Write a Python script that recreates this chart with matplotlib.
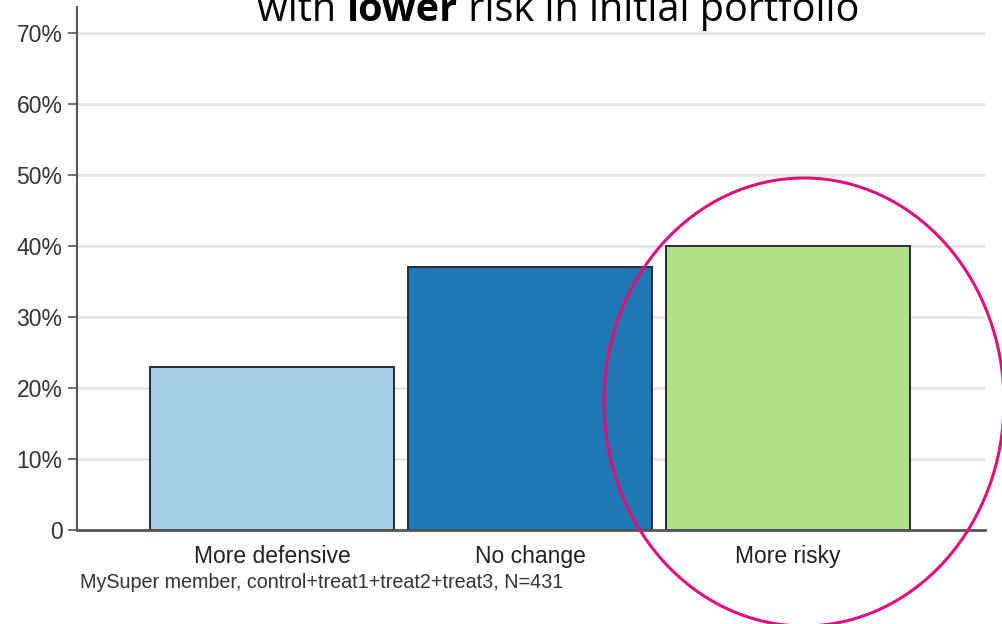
import matplotlib
matplotlib.use("Agg")
import matplotlib.pyplot as plt
from matplotlib.patches import Ellipse

categories = ["More defensive", "No change", "More risky"]
shares = [23, 37, 40]          # percent of members
bar_colors = ["#a6cee3", "#1f78b4", "#b2df8a"]
y_ticks = [0, 10, 20, 30, 40, 50, 60, 70]
y_tick_labels = ["0", "10%", "20%", "30%", "40%", "50%", "60%", "70%"]
footnote = "MySuper member, control+treat1+treat2+treat3, N=431"

W, H = 1002, 624
fig = plt.figure(figsize=(W / 100, H / 100), dpi=100)
fig.patch.set_facecolor("white")

ax = fig.add_axes([77 / W, 94 / H, (985 - 77) / W, (530 - 7) / H])
ax.set_facecolor("white")

x = list(range(len(categories)))
ax.bar(x, shares, width=0.945, color=bar_colors, edgecolor="#2b2b2b",
       linewidth=1.4, zorder=3)

ax.set_xlim(-0.756, 2.764)
ax.set_ylim(0, 73.7)

ax.set_yticks(y_ticks)
ax.set_yticklabels(y_tick_labels, fontfamily="Liberation Sans",
                   fontsize=16.5, color="#333333")
for t in y_ticks[1:]:
    ax.axhline(t, color="#e3e3e3", linewidth=1.8, zorder=1)

ax.set_xticks(x)
ax.set_xticklabels(categories, fontfamily="Liberation Sans",
                   fontsize=16.5, color="#222222")
ax.tick_params(axis="x", length=0, pad=11)
ax.tick_params(axis="y", length=6.5, width=1.2, color="#555555", pad=4)

for side in ("top", "right"):
    ax.spines[side].set_visible(False)
ax.spines["left"].set_color("#555555")
ax.spines["left"].set_linewidth(1.5)
ax.spines["bottom"].set_color("#555555")
ax.spines["bottom"].set_linewidth(2.0)
ax.spines["bottom"].set_zorder(4)

fig.text(80 / W, 1 - 583 / H, footnote, fontfamily="Liberation Sans",
         fontsize=14.2, color="#333333", ha="left", va="center")

# headline, partly running off the top edge
title_parts = [("with ", "normal"), ("lower", "bold"),
               (" risk in initial portfolio", "normal")]
renderer = fig.canvas.get_renderer()
texts = []
for s, w in title_parts:
    t = fig.text(0, 1 - 21 / H, s, fontfamily="Open Sans", fontsize=28.5,
                 fontweight=w, color="black", ha="left", va="baseline")
    texts.append(t)
widths = [t.get_window_extent(renderer).width for t in texts]
x0 = 558 - sum(widths) / 2
for t, w_ in zip(texts, widths):
    t.set_x(x0 / W)
    x0 += w_

# highlight ring around the riskier choice
ring = Ellipse((804 / W, 1 - 402 / H), 400 / W, 448 / H,
               transform=fig.transFigure, fill=False,
               edgecolor="#e0107a", linewidth=2.2, zorder=10)
fig.add_artist(ring)

fig.savefig("out.png", dpi=100)
